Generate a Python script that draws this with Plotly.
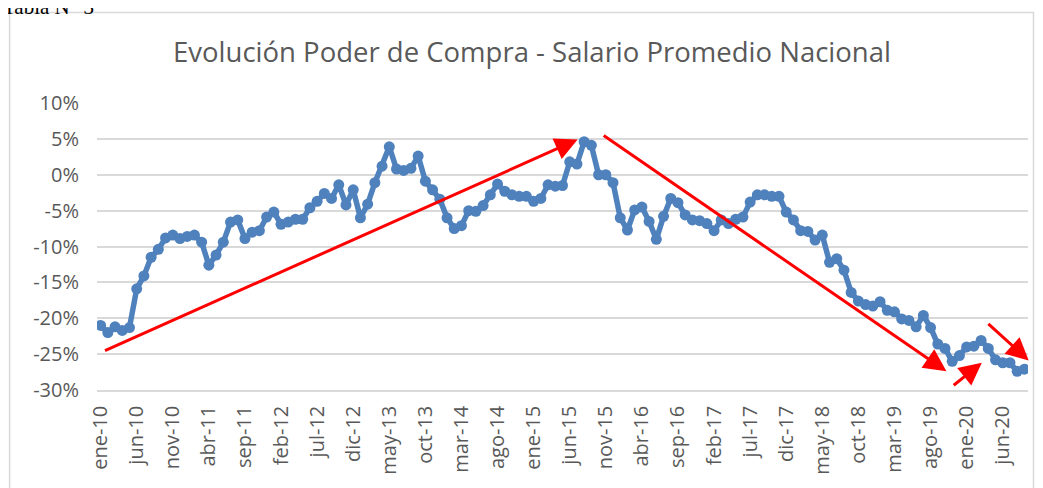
import plotly.graph_objects as go

# ---- data ----
month_abbr = ["ene", "feb", "mar", "abr", "may", "jun",
              "jul", "ago", "sep", "oct", "nov", "dic"]
start_year = 10
n_months = 129
months = [f"{month_abbr[i % 12]}-{start_year + i // 12}" for i in range(n_months)]

poder_compra = [
    -21.0, -22.0, -21.2, -21.7, -21.3, -15.9, -14.1, -11.5, -10.4, -8.8,
    -8.4, -8.9, -8.6, -8.4, -9.4, -12.6, -11.2, -9.4, -6.6, -6.3,
    -8.9, -8.0, -7.8, -5.9, -5.2, -6.9, -6.6, -6.2, -6.2, -4.6,
    -3.7, -2.6, -3.3, -1.4, -4.2, -2.1, -6.0, -4.1, -1.1, 1.2,
    3.9, 0.8, 0.6, 0.9, 2.6, -0.9, -2.1, -3.4, -6.0, -7.5,
    -7.1, -5.0, -5.1, -4.3, -2.8, -1.3, -2.3, -2.8, -3.0, -3.0,
    -3.7, -3.3, -1.4, -1.6, -1.5, 1.8, 1.5, 4.6, 4.1, 0.0,
    0.0, -1.1, -6.0, -7.7, -4.9, -4.5, -6.5, -9.0, -5.8, -3.3,
    -3.9, -5.6, -6.3, -6.4, -6.8, -7.8, -6.3, -6.8, -6.2, -5.9,
    -3.8, -2.8, -2.8, -3.0, -3.0, -5.2, -6.3, -7.8, -7.9, -9.1,
    -8.4, -12.2, -11.7, -13.3, -16.4, -17.6, -18.1, -18.3, -17.7, -18.9,
    -19.1, -20.1, -20.3, -21.2, -19.6, -21.3, -23.6, -24.2, -26.0, -25.2,
    -24.0, -23.9, -23.1, -24.2, -25.8, -26.2, -26.2, -27.4, -27.1,
]

tick_step = 5
y_ticks = [10, 5, 0, -5, -10, -15, -20, -25, -30]
y_ticktext = [f"{v}%" for v in y_ticks]

# trend arrows: (tail_x, tail_y, head_x, head_y) in data units
trend_arrows = [
    (0.4, -24.6, 66.1, 4.9),
    (69.5, 5.6, 117.2, -27.4),
    (118.0, -29.5, 122.1, -26.2),
    (122.8, -20.6, 128.6, -25.9),
]

title_text = "Evolución Poder de Compra - Salario Promedio Nacional"

# ---- figure ----
W, H = 1035, 480
ml, mr, mt, mb = 88.5, 14.5, 95, 98
pw, ph = W - ml - mr, H - mt - mb

x_idx = list(range(n_months))
fig = go.Figure()
fig.add_trace(go.Scatter(
    x=x_idx, y=poder_compra, mode="lines+markers",
    line=dict(color="#4f81bd", width=5.5),
    marker=dict(color="#4f81bd", size=11),
    hoverinfo="skip", showlegend=False,
))

grey = "#595959"
fig.update_layout(
    width=W, height=H,
    margin=dict(l=ml, r=mr, t=mt, b=mb, autoexpand=False),
    paper_bgcolor="white", plot_bgcolor="white",
    font=dict(family="Open Sans, sans-serif", color=grey),
    title=dict(text=title_text, x=524 / W, xanchor="center",
               y=1 - 44 / H, yanchor="middle", xref="container", yref="container",
               font=dict(size=27.5, color=grey, family="Open Sans, sans-serif")),
    xaxis=dict(range=[-0.5, n_months - 0.5],
               tickvals=x_idx[::tick_step], ticktext=months[::tick_step],
               tickangle=-90, tickfont=dict(size=20, color=grey),
               showgrid=False, zeroline=False,
               showline=True, linecolor="#d9d9d9", linewidth=1.5,
               ticks="", ticklabelstandoff=6),
    yaxis=dict(range=[-30, 10], tickvals=y_ticks, ticktext=y_ticktext,
               tickfont=dict(size=20, color=grey),
               showgrid=True, gridcolor="#d9d9d9", gridwidth=1.5,
               zeroline=False, showline=False, ticks="", ticklabelstandoff=17),
)

for tx, ty, hx, hy in trend_arrows:
    fig.add_annotation(x=hx, y=hy, ax=tx, ay=ty, xref="x", yref="y",
                       axref="x", ayref="y", text="", showarrow=True,
                       arrowhead=2, arrowsize=1.5, arrowwidth=3,
                       arrowcolor="#ff0000")

# chart frame and caption above it (figure pixel coordinates)
def px_to_paper_x(px):
    return (px - ml) / pw

def px_to_paper_y(py):
    return (H - mb - py) / ph

fig.add_shape(type="rect", xref="paper", yref="paper",
              x0=px_to_paper_x(1), x1=px_to_paper_x(1026),
              y0=px_to_paper_y(600), y1=px_to_paper_y(4.5),
              line=dict(color="#d9d9d9", width=1.5), fillcolor="rgba(0,0,0,0)",
              layer="below")
fig.add_annotation(text="Tabla N° 3", xref="paper", yref="paper",
                   x=px_to_paper_x(-8), y=px_to_paper_y(13), xanchor="left",
                   yanchor="bottom", showarrow=False,
                   font=dict(family="Liberation Serif, serif", size=21, color="black"))

fig.write_html("out.html")
